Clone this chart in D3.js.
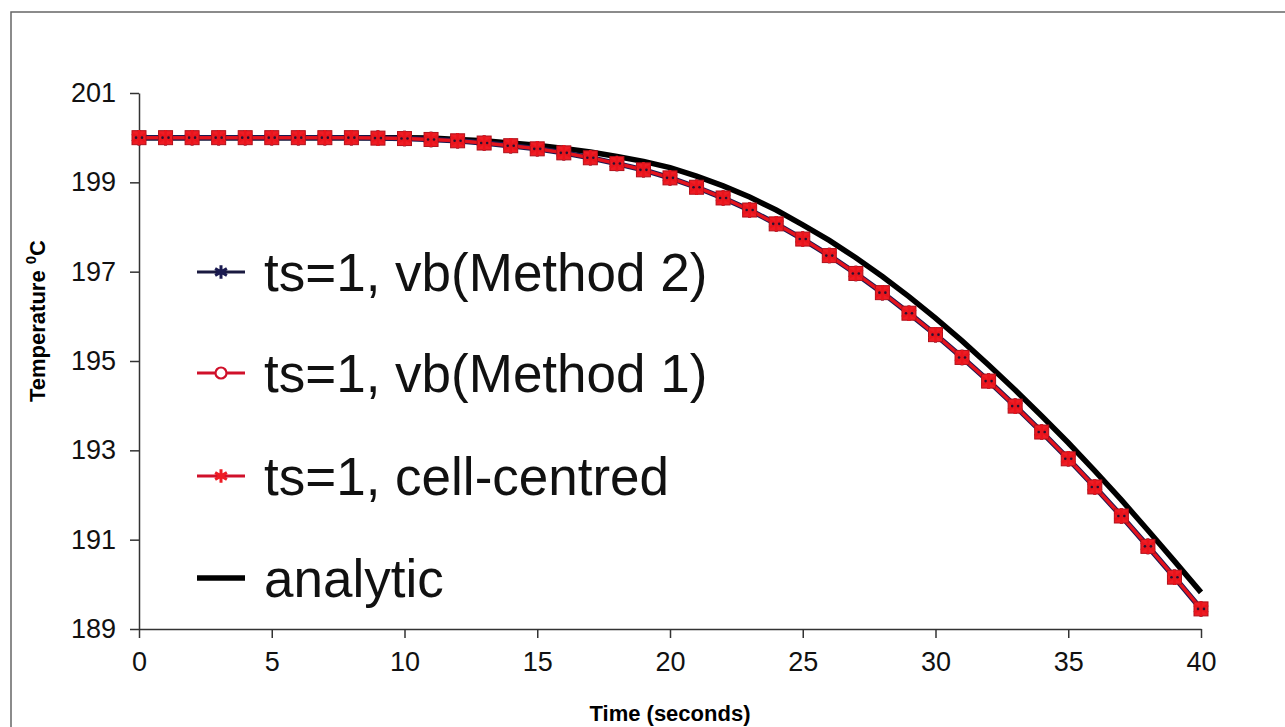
<!DOCTYPE html>
<html>
<head>
<meta charset="utf-8">
<script src="https://cdn.jsdelivr.net/npm/d3@7"></script>
<style>
  body { margin: 0; background: #fff; }
  svg { display: block; font-family: Arial, "Liberation Sans", sans-serif; }
</style>
</head>
<body>
<svg width="1285" height="727"></svg>
<script>
// time steps (s)
const times = d3.range(0, 41);

// numerical results (the three schemes overlap)
const method2 = [200.00, 200.00, 200.00, 200.00, 200.00, 200.00, 200.00, 200.00, 200.00, 199.99,
  199.98, 199.96, 199.93, 199.88, 199.82, 199.75, 199.66, 199.55, 199.42, 199.28,
  199.10, 198.89, 198.65, 198.38, 198.07, 197.73, 197.36, 196.96, 196.53, 196.07,
  195.59, 195.08, 194.55, 193.99, 193.41, 192.81, 192.18, 191.53, 190.85, 190.16, 189.45];
const method1 = [200.00, 200.00, 200.00, 200.00, 200.00, 200.00, 200.00, 200.00, 200.00, 199.99,
  199.98, 199.96, 199.93, 199.88, 199.82, 199.75, 199.66, 199.55, 199.42, 199.28,
  199.10, 198.89, 198.65, 198.38, 198.07, 197.73, 197.36, 196.96, 196.53, 196.07,
  195.59, 195.08, 194.55, 193.99, 193.41, 192.81, 192.18, 191.53, 190.85, 190.16, 189.45];
const cellCentred = [200.00, 200.00, 200.00, 200.00, 200.00, 200.00, 200.00, 200.00, 200.00, 199.99,
  199.98, 199.96, 199.93, 199.88, 199.82, 199.75, 199.66, 199.55, 199.42, 199.28,
  199.10, 198.89, 198.65, 198.38, 198.07, 197.73, 197.36, 196.96, 196.53, 196.07,
  195.59, 195.08, 194.55, 193.99, 193.41, 192.81, 192.18, 191.53, 190.85, 190.16, 189.45];
const analytic = [200.00, 200.00, 200.00, 200.00, 200.00, 200.00, 200.00, 200.00, 200.00, 200.00,
  200.00, 199.99, 199.96, 199.93, 199.88, 199.83, 199.76, 199.68, 199.58, 199.47,
  199.33, 199.14, 198.92, 198.67, 198.38, 198.05, 197.70, 197.31, 196.89, 196.44,
  195.96, 195.45, 194.91, 194.35, 193.77, 193.17, 192.54, 191.89, 191.21, 190.52, 189.82];

const xTicks = [0, 5, 10, 15, 20, 25, 30, 35, 40];
const yTicks = [189, 191, 193, 195, 197, 199, 201];

const legendLabels = ["ts=1, vb(Method 2)", "ts=1, vb(Method 1)", "ts=1, cell-centred", "analytic"];

var svg = d3.select("svg");

// outer frame (left + top edges only are visible)
svg.append("path")
  .attr("d", "M11,727V12H1285")
  .attr("fill", "none")
  .attr("stroke", "#666")
  .attr("stroke-width", 1.5);

var x = d3.scaleLinear().domain([0, 40]).range([139, 1201]);
var y = d3.scaleLinear().domain([189, 201]).range([629, 93]);

var xAxis = svg.append("g")
  .attr("transform", "translate(0," + y(189) + ")")
  .call(d3.axisBottom(x).tickValues(xTicks).tickSize(9).tickPadding(14).tickSizeOuter(0));
var yAxis = svg.append("g")
  .attr("transform", "translate(" + x(0) + ",0)")
  .call(d3.axisLeft(y).tickValues(yTicks).tickSize(9).tickPadding(14).tickSizeOuter(0));

[xAxis, yAxis].forEach(function(a) {
  a.select(".domain").attr("stroke", "#333").attr("stroke-width", 1.5);
  a.selectAll(".tick line").attr("stroke", "#333").attr("stroke-width", 1.5);
  a.selectAll(".tick text").attr("fill", "#111").style("font-size", "27px");
});

// axis titles
svg.append("text")
  .attr("x", 670)
  .attr("y", 721)
  .attr("text-anchor", "middle")
  .style("font-size", "22px")
  .style("font-weight", "bold")
  .text("Time (seconds)");

var yt = svg.append("text")
  .attr("transform", "translate(45,321) rotate(-90)")
  .attr("text-anchor", "middle")
  .style("font-size", "22px")
  .style("font-weight", "bold");
yt.append("tspan").text("Temperature ");
yt.append("tspan").attr("dy", -9).style("font-size", "15px").text("0");
yt.append("tspan").attr("dy", 9).text("C");

var line = d3.line()
  .x(function(d) { return x(d.t); })
  .y(function(d) { return y(d.v); });

function rows(vals) {
  return times.map(function(t, i) { return { t: t, v: vals[i] }; });
}

var plot = svg.append("g");

// analytic underneath
plot.append("path")
  .datum(rows(analytic))
  .attr("d", line)
  .attr("fill", "none")
  .attr("stroke", "#000")
  .attr("stroke-width", 5.5);

plot.append("path")
  .datum(rows(method2))
  .attr("d", line)
  .attr("fill", "none")
  .attr("stroke", "#1a1a50")
  .attr("stroke-width", 5.5);

plot.append("path")
  .datum(rows(method1))
  .attr("d", line)
  .attr("fill", "none")
  .attr("stroke", "#d0102a")
  .attr("stroke-width", 3.5);

plot.append("path")
  .datum(rows(cellCentred))
  .attr("d", line)
  .attr("fill", "none")
  .attr("stroke", "#e4141c")
  .attr("stroke-width", 2.5);

var star = d3.symbol().type(d3.symbolAsterisk);

// markers: navy asterisk, red open circle, red asterisk piled on top
function markers(vals, draw) {
  var g = plot.append("g");
  g.selectAll("g")
    .data(rows(vals))
    .enter()
    .append("g")
    .attr("transform", function(d) { return "translate(" + x(d.t) + "," + y(d.v) + ")"; })
    .each(function() { draw(d3.select(this)); });
}

markers(method2, function(s) {
  s.append("path").attr("d", star.size(170)).attr("fill", "none").attr("stroke", "#1a1a50").attr("stroke-width", 3);
});
markers(method1, function(s) {
  s.append("rect").attr("x", -7).attr("y", -7).attr("width", 14).attr("height", 14)
    .attr("fill", "#ee1c24").attr("stroke", "#b0101a").attr("stroke-width", 1);
});
markers(cellCentred, function(s) {
  s.append("path").attr("d", star.size(170)).attr("fill", "none").attr("stroke", "#e8141c").attr("stroke-width", 2.5);
  s.append("circle").attr("r", 1.3).attr("cx", -3).attr("cy", 0).attr("fill", "#2a1030");
  s.append("circle").attr("r", 1.3).attr("cx", 3).attr("cy", 0).attr("fill", "#2a1030");
});

// legend
var legendY = [272, 373, 476, 578];
var lg = svg.selectAll(".legendItem")
  .data(legendLabels)
  .enter()
  .append("g")
  .attr("class", "legendItem")
  .attr("transform", function(d, i) { return "translate(197," + legendY[i] + ")"; });

lg.append("line")
  .attr("x1", 0).attr("x2", 48)
  .attr("stroke", function(d, i) { return ["#1a1a40", "#d0102a", "#d0102a", "#000"][i]; })
  .attr("stroke-width", function(d, i) { return i == 3 ? 5.5 : 3; });

lg.append("text")
  .attr("x", 67)
  .attr("y", 19)
  .style("font-size", "53px")
  .attr("fill", "#111")
  .text(function(d) { return d; });

// legend markers
lg.filter(function(d, i) { return i == 0; })
  .append("path").attr("transform", "translate(24,0)")
  .attr("d", star.size(130)).attr("fill", "none").attr("stroke", "#1a1a50").attr("stroke-width", 3);
lg.filter(function(d, i) { return i == 1; })
  .append("circle").attr("cx", 24).attr("r", 5.5)
  .attr("fill", "#fff").attr("stroke", "#d0102a").attr("stroke-width", 2.2);
lg.filter(function(d, i) { return i == 2; })
  .append("path").attr("transform", "translate(24,0)")
  .attr("d", star.size(130)).attr("fill", "none").attr("stroke", "#ee1c24").attr("stroke-width", 3);
</script>
</body>
</html>
